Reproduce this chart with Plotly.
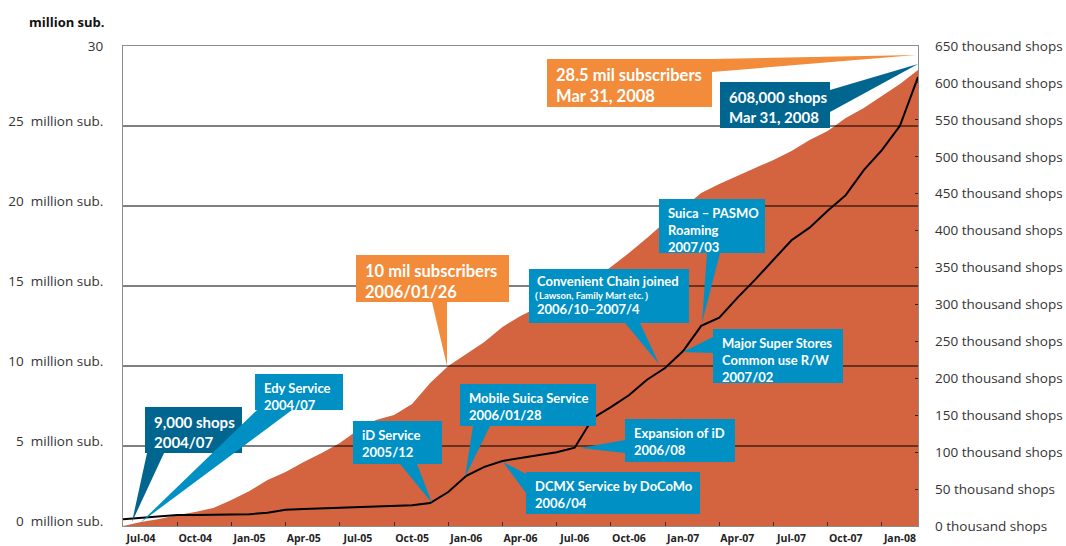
import plotly.graph_objects as go

# ---------------- data ----------------
# month positions: -1 = Jun-04 ... 43 = Feb-08 (last point = Mar 31, 2008 value)
month_labels = ["Jun-04", "Jul-04", "Aug-04", "Sep-04", "Oct-04", "Nov-04", "Dec-04",
                "Jan-05", "Feb-05", "Mar-05", "Apr-05", "May-05", "Jun-05", "Jul-05",
                "Aug-05", "Sep-05", "Oct-05", "Nov-05", "Dec-05", "Jan-06", "Feb-06",
                "Mar-06", "Apr-06", "May-06", "Jun-06", "Jul-06", "Aug-06", "Sep-06",
                "Oct-06", "Nov-06", "Dec-06", "Jan-07", "Feb-07", "Mar-07", "Apr-07",
                "May-07", "Jun-07", "Jul-07", "Aug-07", "Sep-07", "Oct-07", "Nov-07",
                "Dec-07", "Jan-08", "Feb-08"]

subscribers_mil = [0, 0.25, 0.44, 0.69, 0.88, 1.13, 1.63, 2.19, 2.88, 3.38, 4.0, 4.56,
                   5.19, 6.0, 6.63, 6.94, 7.63, 8.94, 10.0, 10.75, 11.5, 12.44, 13.13,
                   13.69, 14.25, 14.75, 15.38, 16.19, 17.06, 18.0, 19.0, 19.88, 20.81,
                   21.38, 21.88, 22.38, 22.88, 23.44, 24.13, 24.69, 25.5, 26.13, 26.88,
                   27.63, 28.5]

shops_thousand = [9, 11, 13, 15, 15, 15, 16, 16, 18, 22, 23, 24, 25, 26, 26, 27, 28,
                  31, 46, 68, 80, 88, 92, 96, 100, 106, 146, 161, 177, 198, 214, 237,
                  271, 282, 309, 334, 360, 387, 404, 427, 448, 482, 509, 542, 608]

x_tick_labels = ["Jul-04", "Oct-04", "Jan-05", "Apr-05", "Jul-05", "Oct-05", "Jan-06",
                 "Apr-06", "Jul-06", "Oct-06", "Jan-07", "Apr-07", "Jul-07", "Oct-07",
                 "Jan-08"]

left_ticks = [0, 5, 10, 15, 20, 25, 30]
left_tick_text = ["0  million sub.", "5  million sub.", "10  million sub.",
                  "15  million sub.", "20  million sub.", "25  million sub.", "30"]
right_ticks = list(range(0, 651, 50))
right_tick_text = [f"{v} thousand shops" for v in right_ticks]

# ---------------- styles ----------------
RED = "#D4633F"
ORANGE = "#F28B3A"
LBLUE = "#0090C4"
DBLUE = "#00658F"
FONT = "Lato"
AXFONT = "Open Sans"

W, H = 1066, 546
PL, PR, PT, PB = 123, 918, 46, 526   # plot area in px

x = list(range(-1, -1 + len(month_labels)))
label_pos = [month_labels.index(l) - 1 for l in x_tick_labels]
minor_pos = [p + 2 for p in label_pos]
# left labels sit slightly above their gridlines (except the top "30")
left_label_pos = [v + (0.3 if v < 30 else 0) for v in left_ticks]

fig = go.Figure()
fig.add_trace(go.Scatter(x=x, y=subscribers_mil, mode="lines", fill="tozeroy",
                         fillcolor=RED, line=dict(color=RED, width=0),
                         hoverinfo="skip", showlegend=False))
fig.add_trace(go.Scatter(x=x, y=shops_thousand, mode="lines", yaxis="y2",
                         line=dict(color="black", width=2),
                         hoverinfo="skip", showlegend=False))

def xp(px):
    return (px - PL) / (PR - PL)

def yp(py):
    return (PB - py) / (PB - PT)

shapes = []
# horizontal gridlines drawn above the area
for v in left_ticks[1:-1]:
    shapes.append(dict(type="line", xref="paper", yref="y", x0=0, x1=1, y0=v, y1=v,
                       line=dict(color="black", width=1), layer="above"))

annotations = []

def label(text, px, py, size, anchor="top"):
    annotations.append(dict(text=text, xref="paper", yref="paper",
                            x=xp(px), y=yp(py), xanchor="left", yanchor=anchor,
                            align="left", showarrow=False,
                            font=dict(family=FONT, size=size, color="white", weight="bold")))

def callout(text, color, box, wedge, size=13):
    x0, y0, x1, y1 = box
    shapes.append(dict(type="path", xref="paper", yref="paper",
                       path="M{},{} L{},{} L{},{} Z".format(
                           xp(wedge[0][0]), yp(wedge[0][1]),
                           xp(wedge[1][0]), yp(wedge[1][1]),
                           xp(wedge[2][0]), yp(wedge[2][1])),
                       fillcolor=color, line=dict(width=0), layer="above"))
    shapes.append(dict(type="rect", xref="paper", yref="paper",
                       x0=xp(x0), x1=xp(x1), y0=yp(y0), y1=yp(y1),
                       fillcolor=color, line=dict(width=0), layer="above"))
    if text:
        label(text, x0 + 7, y0 + 4, size)

callout("9,000 shops<br>2004/07", DBLUE, (145, 407, 242, 453),
        [(147, 453), (164, 453), (132, 522)], size=15)
callout("Edy Service<br>2004/07", LBLUE, (255, 374, 343, 410),
        [(257, 410), (292, 410), (140, 523)])
callout("iD Service<br>2005/12", LBLUE, (353, 421, 442, 464),
        [(400, 464), (417, 464), (432, 503)])
callout("Mobile Suica Service<br>2006/01/28", LBLUE, (460, 384, 596, 426),
        [(473, 426), (490, 426), (465, 477)])
callout("DCMX Service by DoCoMo<br>2006/04", LBLUE, (526, 472, 700, 514),
        [(526, 474), (526, 493), (503, 462)])
callout("Expansion of iD<br>2006/08", LBLUE, (625, 419, 735, 462),
        [(625, 440), (625, 453), (580, 448)])
callout("", LBLUE, (529, 269, 689, 323), [(625, 323), (640, 323), (659, 364)])
label("Convenient Chain joined", 535, 281, 13, "middle")
label("（Lawson, Family Mart etc.）", 527, 295, 9.5, "middle")
label("2006/10–2007/4", 535, 309, 13, "middle")
callout("Suica – PASMO<br>Roaming<br>2007/03", LBLUE, (659, 199, 765, 253),
        [(707, 253), (720, 253), (702, 323)])
callout("Major Super Stores<br>Common use R/W<br>2007/02", LBLUE, (713, 329, 843, 383),
        [(713, 337), (713, 353), (683, 352)])
callout("10 mil subscribers<br>2006/01/26", ORANGE, (356, 255, 509, 302),
        [(432, 302), (447, 302), (447, 366)], size=16.5)
callout("28.5 mil subscribers<br>Mar 31, 2008", ORANGE, (547, 59, 712, 107),
        [(712, 59), (712, 72), (916, 55)], size=16.5)
callout("608,000 shops<br>Mar 31, 2008", DBLUE, (720, 82, 830, 128),
        [(830, 90), (830, 112), (918, 64)], size=15)

annotations.append(dict(text="<b>million sub.</b>", xref="paper", yref="paper",
                        x=xp(107), y=yp(22), xanchor="right", yanchor="middle",
                        showarrow=False, font=dict(family=AXFONT, size=13, color="#111")))

fig.update_layout(
    width=W, height=H, template="none",
    margin=dict(l=PL, r=W - PR, t=PT, b=H - PB, pad=0, autoexpand=False),
    paper_bgcolor="white", plot_bgcolor="white",
    showlegend=False,
    xaxis=dict(range=[-1, 43], tickmode="array", tickvals=label_pos, ticktext=x_tick_labels,
               ticks="", showgrid=False, zeroline=False, showline=True, mirror=True,
               linecolor="#8c8c8c", linewidth=1, automargin=False,
               tickfont=dict(family=AXFONT, size=10.5, color="#222", weight="bold"),
               ticklabelstandoff=2,
               minor=dict(tickmode="array", tickvals=minor_pos, ticks="inside",
                          ticklen=4, tickcolor="#333", tickwidth=1, showgrid=False)),
    yaxis=dict(range=[0, 30], tickmode="array", tickvals=left_label_pos, ticktext=left_tick_text,
               ticks="", showgrid=False, zeroline=False, showline=True, mirror=True,
               linecolor="#8c8c8c", linewidth=1, automargin=False,
               tickfont=dict(family=AXFONT, size=13.5, color="#333"),
               ticklabelstandoff=16),
    yaxis2=dict(range=[0, 650], overlaying="y", side="right", tickmode="array",
                tickvals=right_ticks, ticktext=right_tick_text, ticks="inside",
                ticklen=3, tickcolor="#222", showgrid=False, zeroline=False,
                showline=False, automargin=False,
                tickfont=dict(family=AXFONT, size=13.5, color="#333"),
                ticklabelstandoff=16),
    shapes=shapes,
    annotations=annotations,
)

fig.write_html("out.html", config={"displayModeBar": False},
               post_script="document.body.style.margin='0';document.body.style.overflow='hidden';")
